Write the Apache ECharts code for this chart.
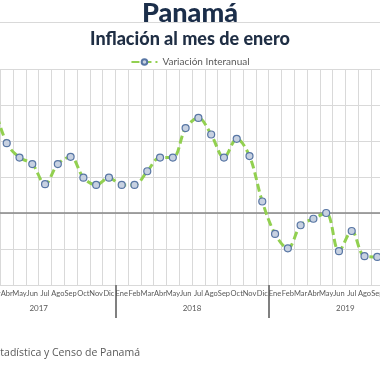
<!DOCTYPE html>
<html>
<head>
<meta charset="utf-8">
<script src="https://cdn.jsdelivr.net/npm/echarts@6/dist/echarts.min.js"></script>
<style>
html,body{margin:0;padding:0;background:#fff;width:380px;height:380px;overflow:hidden;position:relative;}
#c{width:540px;height:380px;position:absolute;left:-80px;top:0;}
</style>
</head>
<body>
<div id="c"></div>
<script>
var months = ['Ene','Feb','Mar','Abr','May','Jun','Jul','Ago','Sep','Oct','Nov','Dic',
              'Ene','Feb','Mar','Abr','May','Jun','Jul','Ago','Sep','Oct','Nov','Dic',
              'Ene','Feb','Mar','Abr','May','Jun','Jul','Ago','Sep','Oct','Nov','Dic'];
var years = ['2017','2018','2019'];
var variacion = [null, null, 1.50, 0.97, 0.77, 0.68, 0.40, 0.68, 0.78, 0.49, 0.39, 0.49,
                 0.39, 0.39, 0.58, 0.77, 0.77, 1.18, 1.32, 1.09, 0.77, 1.03, 0.79, 0.16,
                 -0.29, -0.49, -0.17, -0.08, 0.00, -0.53, -0.25, -0.60, -0.61, null, null, null];
var yTicks = {min: -1, max: 2, interval: 0.5};

var chart = echarts.init(document.getElementById('c'));
chart.setOption({
  backgroundColor: '#ffffff',
  animation: false,
  title: [
    {text: 'Panamá', left: 'center', top: -5,
     textStyle: {fontFamily: 'Lato', fontWeight: 900, fontSize: 27, color: '#1b2e4a'}},
    {text: 'Inflación al mes de enero', left: 'center', top: 25,
     textStyle: {fontFamily: 'Lato', fontWeight: 900, fontSize: 18, color: '#1f2e44'}}
  ],
  graphic: [
    {type: 'line', shape: {x1: 0, y1: 22.5, x2: 540, y2: 22.5}, style: {stroke: '#d9d9d9', lineWidth: 1}, silent: true},
    {type: 'text', x: 220, y: 353, style: {text: 'Fuente: Instituto Nacional de Estadística y Censo de Panamá', align: 'right', verticalAlign: 'middle', fontFamily: 'Open Sans', fontSize: 10.5, fill: '#595959'}}
  ],
  legend: {
    data: ['Variación Interanual'], top: 52, left: 'center',
    itemWidth: 26, itemHeight: 7, itemGap: 3,
    textStyle: {fontFamily: 'Lato', fontSize: 10, color: '#595959'}
  },
  grid: {left: 42, right: 38, top: 69, bottom: 95, containLabel: false},
  xAxis: [
    {type: 'category', data: months, position: 'bottom', offset: 0, boundaryGap: true,
     axisLine: {show: false, onZero: false}, axisTick: {show: false},
     splitLine: {show: true, interval: 0, lineStyle: {color: '#d9d9d9', width: 1}},
     axisLabel: {interval: 0, margin: 5, fontFamily: 'Lato', fontSize: 7.5, color: '#595959'}},
    {type: 'category', data: years, position: 'bottom', offset: 0, boundaryGap: true,
     axisLine: {show: false, onZero: false},
     axisTick: {show: true, interval: 0, length: 33, lineStyle: {color: '#808080', width: 2}},
     axisLabel: {interval: 0, margin: 19, fontFamily: 'Lato', fontSize: 8, color: '#595959'},
     splitLine: {show: false}}
  ],
  yAxis: {type: 'value', min: yTicks.min, max: yTicks.max, interval: yTicks.interval,
    axisLabel: {show: false}, axisLine: {show: false}, axisTick: {show: false},
    splitLine: {lineStyle: {color: '#d9d9d9', width: 1}}},
  series: [{
    name: 'Variación Interanual', type: 'line', xAxisIndex: 0, data: variacion,
    smooth: 0.35, connectNulls: false,
    symbol: 'circle', symbolSize: 7,
    lineStyle: {color: '#92d050', width: 3, type: [8, 4]},
    itemStyle: {color: '#c7d1e1', borderColor: '#5876a4', borderWidth: 1.2},
    markLine: {silent: true, symbol: 'none', label: {show: false},
      lineStyle: {color: '#868686', width: 1.5, type: 'solid'},
      data: [{yAxis: 0}]},
    z: 5
  }]
});
</script>
</body>
</html>
